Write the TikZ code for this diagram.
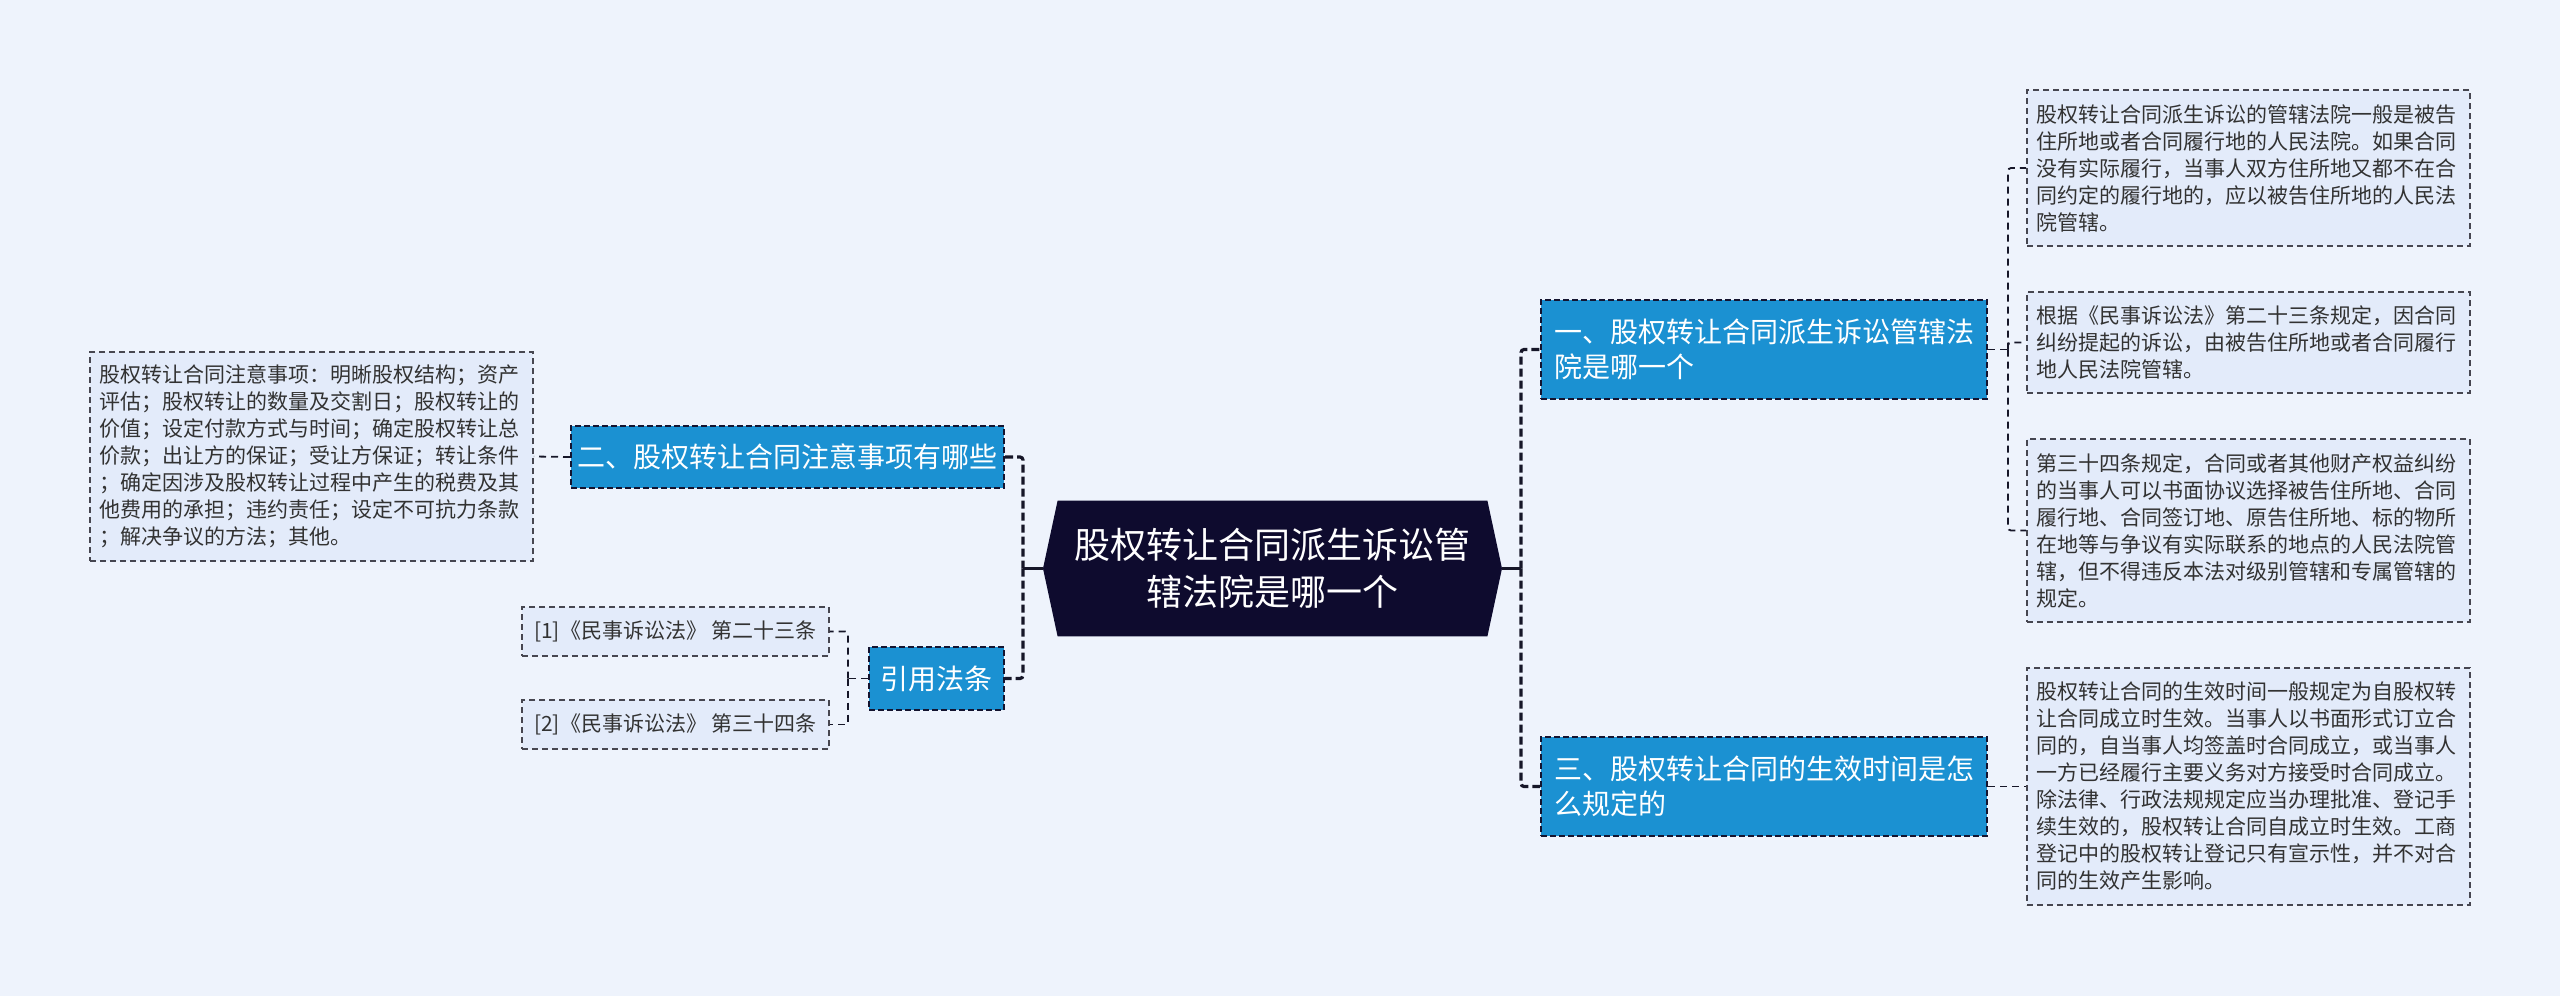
\documentclass[tikz,border=0pt]{standalone}
\usepackage{fontspec}
\newfontfamily\cjk{Noto Sans CJK SC}
\usetikzlibrary{backgrounds}
\definecolor{bgc}{RGB}{238,243,252}
\definecolor{leaffill}{RGB}{227,235,250}
\definecolor{leafline}{RGB}{70,70,80}
\definecolor{branchc}{RGB}{27,145,210}
\definecolor{darkc}{RGB}{20,20,48}
\definecolor{centerc}{RGB}{14,11,46}
\definecolor{linec}{RGB}{22,22,40}
\definecolor{textc}{RGB}{50,50,50}
\tikzset{
  leaf/.style={draw=leafline, fill=leaffill, line width=0.8pt, dash pattern=on 3pt off 2pt,
    font=\cjk\fontsize{10.5pt}{13.5pt}\selectfont, text=textc, align=left,
    text width=212pt, inner xsep=4.75pt, inner ysep=0pt},
  ref/.style={draw=leafline, fill=leaffill, line width=0.8pt, dash pattern=on 3pt off 2pt,
    font=\cjk\fontsize{10.5pt}{13.5pt}\selectfont, text=textc, align=center,
    minimum width=153.5pt, minimum height=24.5pt, inner sep=0pt},
  branch/.style={draw=darkc, fill=branchc, line width=1pt, dash pattern=on 3pt off 1.5pt,
    font=\cjk\fontsize{14pt}{17.5pt}\selectfont, text=white, inner ysep=0pt},
  hub/.style={font=\cjk\fontsize{18pt}{23.5pt}\selectfont, text=white, align=center,
    minimum width=214.5pt, minimum height=67.5pt, inner sep=0pt},
  stem/.style={draw=linec, line width=1.6pt},
  trunk/.style={draw=linec, line width=1.6pt, dash pattern=on 4pt off 2pt, rounded corners=1.5pt},
  twig/.style={draw=linec, line width=0.9pt, dash pattern=on 3.5pt off 2.5pt, rounded corners=1.5pt}
}
\begin{document}
\begin{tikzpicture}[x=0.5pt,y=-0.5pt]
\useasboundingbox (0,0) rectangle (2560,996);
\begin{scope}[on background layer]
\fill[bgc] (0,0) rectangle (2560,996);
\end{scope}

% central node
\node[hub] (c) at (1272.5,568.5) {股权转让合同派生诉讼管\\辖法院是哪一个};
\coordinate (cL) at (1043,568.5);
\coordinate (cR) at (1502,568.5);
\begin{scope}[on background layer]
\fill[centerc] (cL) -- (c.north west) -- (c.north east) -- (cR) -- (c.south east) -- (c.south west) -- cycle;
\end{scope}

% branches
\node[branch, minimum width=216.5pt, minimum height=31pt, inner xsep=0pt] (n2) at (787.5,457) {二、股权转让合同注意事项有哪些};
\node[branch, minimum width=67.5pt, minimum height=31.5pt, inner xsep=0pt] (q) at (936.5,678.5) {引用法条};
\node[branch, text width=210pt, inner xsep=6.5pt, minimum height=49.5pt, align=left] (n1) at (1764,349.5) {一、股权转让合同派生诉讼管辖法\\院是哪一个};
\node[branch, text width=210pt, inner xsep=6.5pt, minimum height=49.5pt, align=left] (n3) at (1764,786.5) {三、股权转让合同的生效时间是怎\\么规定的};

% leaves
\node[leaf, minimum height=104.5pt] (L) at (311.5,456.5) {股权转让合同注意事项：明晰股权结构；资产\\
评估；股权转让的数量及交割日；股权转让的\\
价值；设定付款方式与时间；确定股权转让总\\
价款；出让方的保证；受让方保证；转让条件\\
；确定因涉及股权转让过程中产生的税费及其\\
他费用的承担；违约责任；设定不可抗力条款\\
；解决争议的方法；其他。};

\node[ref] (r1) at (675.5,631.5) {[1]《民事诉讼法》 第二十三条};
\node[ref] (r2) at (675.5,724.5) {[2]《民事诉讼法》 第三十四条};

\node[leaf, minimum height=78pt] (l1) at (2248.5,168) {股权转让合同派生诉讼的管辖法院一般是被告\\
住所地或者合同履行地的人民法院。如果合同\\
没有实际履行，当事人双方住所地又都不在合\\
同约定的履行地的，应以被告住所地的人民法\\
院管辖。};

\node[leaf, minimum height=50.5pt] (l2) at (2248.5,342.5) {根据《民事诉讼法》第二十三条规定，因合同\\
纠纷提起的诉讼，由被告住所地或者合同履行\\
地人民法院管辖。};

\node[leaf, minimum height=91.5pt] (l3) at (2248.5,530.5) {第三十四条规定，合同或者其他财产权益纠纷\\
的当事人可以书面协议选择被告住所地、合同\\
履行地、合同签订地、原告住所地、标的物所\\
在地等与争议有实际联系的地点的人民法院管\\
辖，但不得违反本法对级别管辖和专属管辖的\\
规定。};

\node[leaf, minimum height=118.5pt] (l4) at (2248.5,786.5) {股权转让合同的生效时间一般规定为自股权转\\
让合同成立时生效。当事人以书面形式订立合\\
同的，自当事人均签盖时合同成立，或当事人\\
一方已经履行主要义务对方接受时合同成立。\\
除法律、行政法规规定应当办理批准、登记手\\
续生效的，股权转让合同自成立时生效。工商\\
登记中的股权转让登记只有宣示性，并不对合\\
同的生效产生影响。};

% connectors from the centre
\draw[stem] (cL) -- ++(-20,0) coordinate (tl);
\draw[trunk] (tl) |- (n2.east);
\draw[trunk] (tl) |- (q.east);
\draw[stem] (cR) -- ++(19,0) coordinate (tr);
\draw[trunk] (tr) |- (n1.west);
\draw[trunk] (tr) |- (n3.west);

% connectors to leaves
\draw[twig] (n2.west) -- (L.east);
\draw[twig] (q.west) -- ++(-20,0) coordinate (tq);
\draw[twig] (tq) |- (r1.east);
\draw[twig] (tq) |- (r2.east);
\draw[twig] (n1.east) -- ++(20,0) coordinate (t1);
\draw[twig] (t1) |- (l1.west);
\draw[twig] (t1) |- (l2.west);
\draw[twig] (t1) |- (l3.west);
\draw[twig] (n3.east) -- (l4.west);
\end{tikzpicture}
\end{document}
